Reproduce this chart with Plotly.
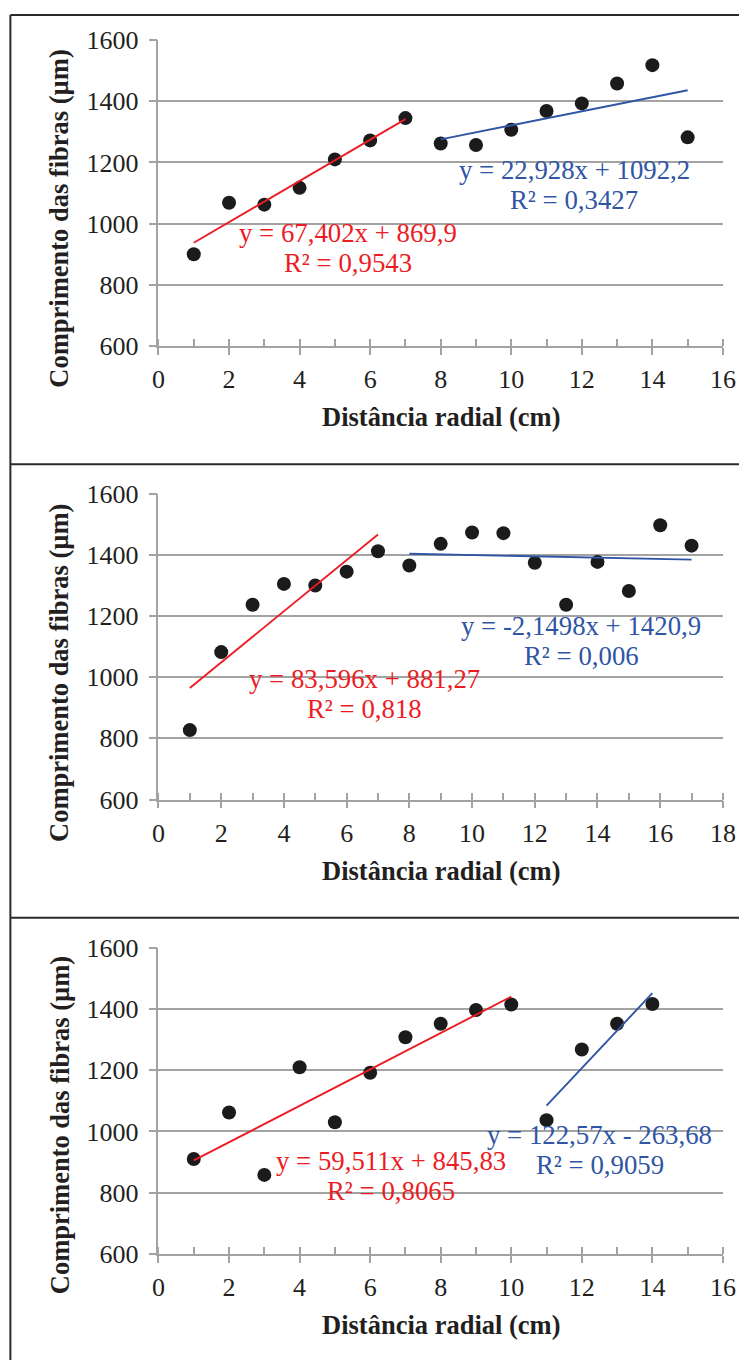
import plotly.graph_objects as go

# ---------------- data ----------------
dist_a = [1, 2, 3, 4, 5, 6, 7, 8, 9, 10, 11, 12, 13, 14, 15]
comp_a = [900, 1068, 1062, 1117, 1210, 1272, 1345, 1262, 1257, 1307, 1368, 1393, 1458, 1518, 1282]

dist_b = [1, 2, 3, 4, 5, 6, 7, 8, 9, 10, 11, 12, 13, 14, 15, 16, 17]
comp_b = [827, 1082, 1237, 1305, 1300, 1345, 1412, 1365, 1436, 1473, 1471, 1374, 1237, 1377, 1282, 1497, 1430]

dist_c = [1, 2, 3, 4, 5, 6, 7, 8, 9, 10, 11, 12, 13, 14]
comp_c = [910, 1062, 858, 1210, 1030, 1192, 1308, 1352, 1397, 1415, 1037, 1268, 1352, 1417]

# trend lines: [slope, intercept, x_start, x_end]
fit_a_red = [67.402, 869.9, 1, 7]
fit_a_blue = [22.928, 1092.2, 8, 15]
fit_b_red = [83.596, 881.27, 1, 7]
fit_b_blue = [-2.1498, 1420.9, 8, 17]
fit_c_red = [59.511, 845.83, 1, 10]
fit_c_blue = [122.57, -263.68, 11, 14]

eq_a = ["y = 67,402x + 869,9", "R² = 0,9543", "y = 22,928x + 1092,2", "R² = 0,3427"]
eq_b = ["y = 83,596x + 881,27", "R² = 0,818", "y = -2,1498x + 1420,9", "R² = 0,006"]
eq_c = ["y = 59,511x + 845,83", "R² = 0,8065", "y = 122,57x - 263,68", "R² = 0,9059"]

# label anchor positions in data units: [x, y] for each of the 4 lines
eq_pos_a = [[5.36, 968], [5.36, 870], [11.80, 1174], [11.78, 1076]]
eq_pos_b = [[6.57, 994], [6.57, 896], [13.48, 1167], [13.48, 1069]]
eq_pos_c = [[6.60, 904], [6.58, 806], [12.50, 989], [12.52, 891]]

x_max = [16, 18, 16]
y_tickvals = [600, 800, 1000, 1200, 1400, 1600]

x_title = "Distância radial (cm)"
y_title = "Comprimento das fibras (µm)"

# ---------------- geometry ----------------
# the photographed page shows the figure slightly reduced and shifted; the
# layout below maps target picture pixels onto figure pixels accordingly
SX, OX = 0.9754, -2.9
SY, OY = 0.9783, 7.1
MARG = 8.0
W, H = 752, 1375


def fx(xr):
    return (xr - OX) / SX - MARG


def fy(yr):
    return (yr - OY) / SY - MARG


def px(xr):
    return fx(xr) / W


def py(yr):
    return 1 - fy(yr) / H


GRAY = "#a3a3a3"
TXT = "#231f20"
RED = "#ec1c24"
BLUE = "#2f55a4"
FONT = "Liberation Serif, Times New Roman, DejaVu Serif, serif"

x_dom = [px(156.7), px(722.3)]
panel_px = [(41.0, 346.7), (494.3, 800.0), (948.3, 1254.0)]
y_doms = [[py(b), py(t)] for (t, b) in panel_px]
xt_center_px = [418.0, 871.0, 1325.0]
yt_center_px = [219.0, 673.0, 1125.0]

panels = [
    (dist_a, comp_a, fit_a_red, fit_a_blue, eq_a, eq_pos_a),
    (dist_b, comp_b, fit_b_red, fit_b_blue, eq_b, eq_pos_b),
    (dist_c, comp_c, fit_c_red, fit_c_blue, eq_c, eq_pos_c),
]

fig = go.Figure()
annotations = []
layout_axes = {}

for i, (xs, ys, fr, fb, eqs, eqp) in enumerate(panels):
    sfx = "" if i == 0 else str(i + 1)
    ov = str(i + 4)
    fig.add_trace(go.Scatter(x=xs, y=ys, mode="markers",
                             marker=dict(size=14, color="#1b1b1b"),
                             xaxis="x" + sfx, yaxis="y" + sfx,
                             showlegend=False, hoverinfo="skip"))
    for fit, col in ((fr, RED), (fb, BLUE)):
        m, b, x0, x1 = fit
        fig.add_trace(go.Scatter(x=[x0, x1], y=[m * x0 + b, m * x1 + b], mode="lines",
                                 line=dict(color=col, width=1.9),
                                 xaxis="x" + sfx, yaxis="y" + sfx,
                                 showlegend=False, hoverinfo="skip"))
    # empty trace to activate the overlay axis (cross tick marks)
    fig.add_trace(go.Scatter(x=[], y=[], xaxis="x" + ov, yaxis="y" + sfx,
                             showlegend=False, hoverinfo="skip"))

    layout_axes["xaxis" + sfx] = dict(
        domain=x_dom, anchor="y" + sfx, range=[0, x_max[i]], dtick=2, tick0=0,
        ticks="outside", ticklen=7, tickwidth=1.5, tickcolor=GRAY,
        showline=True, linecolor=GRAY, linewidth=1.6,
        showgrid=False, zeroline=False,
        tickfont=dict(family=FONT, size=26, color=TXT),
        ticklabelstandoff=2,
        minor=dict(dtick=1, tick0=0, ticks="inside", ticklen=7, tickwidth=1.5,
                   tickcolor=GRAY, showgrid=False),
    )
    layout_axes["xaxis" + ov] = dict(
        overlaying="x" + sfx, anchor="y" + sfx, range=[0, x_max[i]], dtick=2, tick0=0,
        ticks="inside", ticklen=7, tickwidth=1.5, tickcolor=GRAY,
        showticklabels=False, showgrid=False, zeroline=False, showline=False,
    )
    layout_axes["yaxis" + sfx] = dict(
        domain=y_doms[i], anchor="x" + sfx, range=[600, 1600], tickvals=y_tickvals,
        ticks="outside", ticklen=8, tickwidth=1.5, tickcolor=GRAY,
        showline=True, linecolor=GRAY, linewidth=1.6,
        showgrid=True, gridcolor=GRAY, gridwidth=1.6, zeroline=False,
        tickfont=dict(family=FONT, size=26, color=TXT),
        ticklabelstandoff=5,
    )

    for k in range(4):
        annotations.append(dict(
            text=eqs[k], x=eqp[k][0], y=eqp[k][1], xref="x" + sfx, yref="y" + sfx,
            showarrow=False, xanchor="center", yanchor="middle",
            font=dict(family=FONT, size=26.8, color=RED if k < 2 else BLUE)))

    annotations.append(dict(
        text="<b>" + x_title + "</b>", x=px(439.5), y=py(xt_center_px[i]),
        xref="paper", yref="paper", showarrow=False, xanchor="center", yanchor="middle",
        font=dict(family=FONT, size=26.5, color=TXT)))
    annotations.append(dict(
        text="<b>" + y_title + "</b>", x=px(57.5), y=py(yt_center_px[i]),
        xref="paper", yref="paper", showarrow=False, xanchor="center", yanchor="middle",
        textangle=-90, font=dict(family=FONT, size=26.5, color=TXT)))

# panel frame lines
LC = "#2a2a2a"
top_y = min(py(11.7), 1 - 1.0 / H)
shapes = [
    dict(type="line", xref="paper", yref="paper", x0=px(8.3), x1=px(8.3), y0=0, y1=top_y,
         line=dict(color=LC, width=2)),
    dict(type="line", xref="paper", yref="paper", x0=px(8.3), x1=1, y0=top_y, y1=top_y,
         line=dict(color=LC, width=2)),
    dict(type="line", xref="paper", yref="paper", x0=px(8.3), x1=1, y0=py(465), y1=py(465),
         line=dict(color=LC, width=2)),
    dict(type="line", xref="paper", yref="paper", x0=px(8.3), x1=1, y0=py(918), y1=py(918),
         line=dict(color=LC, width=2)),
]

fig.update_layout(
    width=W, height=H, margin=dict(l=0, r=0, t=0, b=0),
    paper_bgcolor="white", plot_bgcolor="white",
    annotations=annotations, shapes=shapes, showlegend=False,
    **layout_axes,
)

fig.write_html("out.html")
